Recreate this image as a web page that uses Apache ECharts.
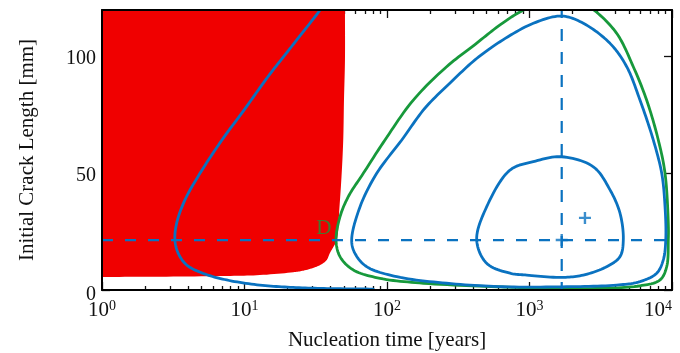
<!DOCTYPE html>
<html>
<head>
<meta charset="utf-8">
<script src="https://cdn.jsdelivr.net/npm/echarts@6/dist/echarts.min.js"></script>
<style>
  html, body { margin: 0; padding: 0; background: #fff; }
  #chart { width: 680px; height: 353px; }
</style>
</head>
<body>
<div id="chart"></div>
<script>
// ---- axis ticks ----
const xMajorTicks = [1, 10, 100, 1000, 10000];
const xMinorTicks = [2, 3, 4, 5, 6, 7, 8, 9,
  20, 30, 40, 50, 60, 70, 80, 90,
  200, 300, 400, 500, 600, 700, 800, 900,
  2000, 3000, 4000, 5000, 6000, 7000, 8000, 9000];
const yMajorTicks = [0, 50, 100];

// ---- regions and contours: [nucleation time (years), initial crack length (mm)] ----
// curved edge of the red region (bottom-left to top); closed along the frame
const redEdge = [
  [1, 5.6], [2.55, 5.7], [7.5, 6.0], [12.8, 6.4], [22.0, 7.6], [25.9, 8.3],
  [32.1, 10.0], [35.5, 11.4], [37.8, 12.9], [39.8, 15.9], [42.0, 18.4],
  [44.4, 21.4], [46.4, 35.6], [48.1, 50.1], [49.3, 64.3], [49.9, 81.4],
  [50.7, 98.6], [50.7, 120]
];
const redFrameCorner = [[1, 120]];
// blue curve crossing the red region
const leftCurve = [
  [36.5, 123], [33.9, 120], [20.5, 102.9], [14.6, 91.4], [9.92, 77.1], [6.95, 64.3],
  [4.87, 50.0], [3.82, 38.6], [3.34, 28.6], [3.25, 21.4], [3.43, 15.7],
  [3.93, 10.7], [5.14, 7.1], [7.50, 4.3], [12.8, 2.1], [21.9, 1.1],
  [40, 0.6], [80, 0.4]
];
// green outer contour (closed)
const greenContour = [
  [43.9, 21.4], [46.8, 31.4], [53.5, 40.0], [68.2, 50.0], [96.8, 64.3],
  [153, 81.4], [262, 95.7], [414, 105.2], [621, 113.6], [882, 119.6],
  [1250, 123.5], [1800, 124.8], [2400, 122.5], [2884, 119.6], [4091, 110.0],
  [5350, 95.7], [6637, 81.4], [8014, 64.3], [8935, 50.0], [9420, 28.6],
  [9420, 21.4], [9180, 10.0], [8240, 4.3], [5960, 1.8], [3126, 0.7],
  [1200, 0.8], [589, 1.4], [180, 2.9], [89.3, 5.0], [58.0, 8.6],
  [46.8, 14.3], [43.9, 21.4]
];
// blue outer contour (closed)
const blueOuterContour = [
  [56.5, 21.4], [64.7, 35.7], [84.7, 50.0], [127, 64.3], [185, 78.0],
  [277, 88.7], [414, 98.6], [621, 106.4], [1064, 114.3], [1683, 117.4],
  [2387, 114.3], [3673, 105.7], [4810, 95.7], [5960, 81.4], [7390, 64.3],
  [8470, 50.0], [8935, 35.7], [9040, 21.4], [8690, 12.9], [7810, 7.2],
  [5960, 3.6], [4091, 2.1], [1824, 1.4], [655, 1.4], [262, 2.9],
  [117, 5.7], [72.0, 10.0], [59.6, 15.7], [56.5, 21.4]
];
// blue inner contour (closed)
const blueInnerContour = [
  [1683, 57.1], [2805, 52.8], [3673, 42.9], [4317, 32.9], [4553, 21.4],
  [4317, 14.3], [3480, 10.0], [2387, 6.4], [1683, 5.4], [955, 6.4],
  [730, 7.2], [501, 11.4], [426, 21.4], [501, 35.7], [730, 51.4],
  [1064, 55.0], [1683, 57.1]
];
// dashed guide lines
const guideHorizontal = [[1, 21.4], [10000, 21.4]];
const guideVertical = [[1683, 0], [1683, 120]];
// cross markers
const crossMarks = [[1683, 21.4], [2450, 30.9]];
// label "D"
const labelD = [[36, 26.2]];

const FONT = 'Liberation Serif';
const INK = '#111111';
const RED = '#f00000';
const BLUE = '#0a72c0';
const GREEN = '#17993b';
const PLUS = 'path://M-1,-5L1,-5L1,-1L5,-1L5,1L1,1L1,5L-1,5L-1,1L-5,1L-5,-1L-1,-1Z';

// Centripetal Catmull-Rom through screen points, sampled for drawing.
function splineThrough(pts, closed, steps) {
  let p = pts.slice();
  const n0 = p.length;
  if (closed) p = p.slice(0, n0 - 1);
  const n = p.length;
  const at = i => {
    if (closed) return p[((i % n) + n) % n];
    if (i < 0) return [2 * p[0][0] - p[1][0], 2 * p[0][1] - p[1][1]];
    if (i >= n) return [2 * p[n - 1][0] - p[n - 2][0], 2 * p[n - 1][1] - p[n - 2][1]];
    return p[i];
  };
  const knot = (a, b) => Math.max(Math.sqrt(Math.hypot(b[0] - a[0], b[1] - a[1])), 1e-4);
  const lerp = (a, b, ta, tb, t) => {
    const u = (t - ta) / (tb - ta);
    return [a[0] + (b[0] - a[0]) * u, a[1] + (b[1] - a[1]) * u];
  };
  const out = [];
  const segs = closed ? n : n - 1;
  for (let i = 0; i < segs; i++) {
    const p0 = at(i - 1), p1 = at(i), p2 = at(i + 1), p3 = at(i + 2);
    const t0 = 0, t1 = t0 + knot(p0, p1), t2 = t1 + knot(p1, p2), t3 = t2 + knot(p2, p3);
    for (let s = 0; s < steps; s++) {
      const t = t1 + (t2 - t1) * (s / steps);
      const a1 = lerp(p0, p1, t0, t1, t), a2 = lerp(p1, p2, t1, t2, t), a3 = lerp(p2, p3, t2, t3, t);
      const b1 = lerp(a1, a2, t0, t2, t), b2 = lerp(a2, a3, t1, t3, t);
      out.push(lerp(b1, b2, t1, t2, t));
    }
  }
  out.push(closed ? at(0) : p[n - 1]);
  return out;
}

function curveSeries(data, color, closed, z) {
  return {
    type: 'custom',
    clip: true,
    data: data,
    z: z,
    renderItem: function (params, api) {
      if (params.dataIndex !== 0) return null;
      const px = data.map(d => api.coord(d));
      return {
        type: 'polyline',
        shape: { points: splineThrough(px, closed, 12) },
        style: { stroke: color, lineWidth: 2.8, fill: 'none', lineJoin: 'round', lineCap: 'round' }
      };
    }
  };
}

function blankAxis(extra) {
  return Object.assign({
    gridIndex: 0,
    axisLine: { show: false, onZero: false },
    axisTick: { show: false },
    axisLabel: { show: false },
    splitLine: { show: false },
    minorTick: { show: false },
    minorSplitLine: { show: false }
  }, extra);
}
function logX(extra) {
  return blankAxis(Object.assign({ type: 'log', logBase: 10, min: 1, max: 10000 }, extra));
}
function linY(extra) {
  return blankAxis(Object.assign({ type: 'value', min: 0, max: 120 }, extra));
}
function ticks(values, len) {
  return { show: true, inside: true, length: len, customValues: values,
           lineStyle: { color: INK, width: 1.3 } };
}
const frameLine = { show: true, onZero: false, lineStyle: { color: '#000', width: 2 } };

const chart = echarts.init(document.getElementById('chart'), null, { renderer: 'canvas' });

const option = {
  animation: false,
  backgroundColor: '#fff',
  grid: { left: 102, right: 8, top: 10, bottom: 63, outerBoundsMode: 'none', containLabel: false },
  xAxis: [
    logX({
      position: 'bottom',
      axisTick: ticks(xMajorTicks, 8),
      axisLabel: {
        show: true, margin: 9, customValues: xMajorTicks, alignMaxLabel: 'right',
        formatter: v => '{b|10}{e|' + Math.round(Math.log10(v)) + '}',
        rich: {
          b: { fontFamily: FONT, fontSize: 21, color: INK, lineHeight: 22 },
          e: { fontFamily: FONT, fontSize: 14, color: INK, lineHeight: 13, verticalAlign: 'top' }
        }
      },
      name: 'Nucleation time [years]',
      nameLocation: 'middle',
      nameGap: 40,
      nameTextStyle: { fontFamily: FONT, fontSize: 21, color: INK }
    }),
    logX({ position: 'bottom', axisTick: ticks(xMinorTicks, 4) }),
    logX({ position: 'top', axisTick: ticks(xMajorTicks, 8) }),
    logX({ position: 'top', axisTick: ticks(xMinorTicks, 4) }),
    logX({ position: 'bottom', z: 10, axisLine: frameLine }),
    logX({ position: 'top', z: 10, axisLine: frameLine })
  ],
  yAxis: [
    linY({
      position: 'left',
      axisTick: ticks(yMajorTicks, 8),
      axisLabel: {
        show: true, margin: 6, customValues: yMajorTicks,
        formatter: v => (v === 0 ? '{z|0}' : '{n|' + v + '}'),
        rich: {
          n: { fontFamily: FONT, fontSize: 20, color: INK, padding: [4, 0, 0, 0] },
          z: { fontFamily: FONT, fontSize: 20, color: INK, padding: [9, 0, 0, 0] }
        }
      },
      name: 'Initial Crack Length [mm]',
      nameLocation: 'middle',
      nameGap: 64,
      nameTextStyle: { fontFamily: FONT, fontSize: 21, color: INK }
    }),
    linY({ position: 'right', axisTick: ticks(yMajorTicks, 8) }),
    linY({ position: 'left', z: 10, axisLine: frameLine }),
    linY({ position: 'right', z: 10, axisLine: frameLine })
  ],
  series: [
    {
      type: 'custom',
      name: 'region',
      clip: true,
      data: redEdge,
      z: 1,
      renderItem: function (params, api) {
        if (params.dataIndex !== 0) return null;
        const edge = splineThrough(redEdge.map(p => api.coord(p)), false, 10);
        const pts = edge.concat(redFrameCorner.map(p => api.coord(p)));
        return { type: 'polygon', shape: { points: pts }, style: { fill: RED } };
      }
    },
    curveSeries(leftCurve, BLUE, false, 3),
    curveSeries(greenContour, GREEN, true, 3),
    curveSeries(blueOuterContour, BLUE, true, 4),
    curveSeries(blueInnerContour, BLUE, true, 4),
    {
      type: 'line', data: guideHorizontal, showSymbol: false, symbol: 'none',
      lineStyle: { color: BLUE, width: 2.2, type: [11, 12] }, z: 5
    },
    {
      type: 'line', data: guideVertical, showSymbol: false, symbol: 'none',
      lineStyle: { color: BLUE, width: 2.2, type: [12, 11], dashOffset: 4 }, z: 5
    },
    {
      type: 'scatter', data: crossMarks, symbol: PLUS, symbolSize: 12,
      itemStyle: { color: BLUE }, z: 6
    },
    {
      type: 'scatter', data: labelD, symbolSize: 0, silent: true,
      label: {
        show: true, position: 'inside', formatter: 'D',
        fontFamily: FONT, fontSize: 21, color: GREEN
      },
      z: 6
    }
  ]
};

chart.setOption(option);
</script>
</body>
</html>
